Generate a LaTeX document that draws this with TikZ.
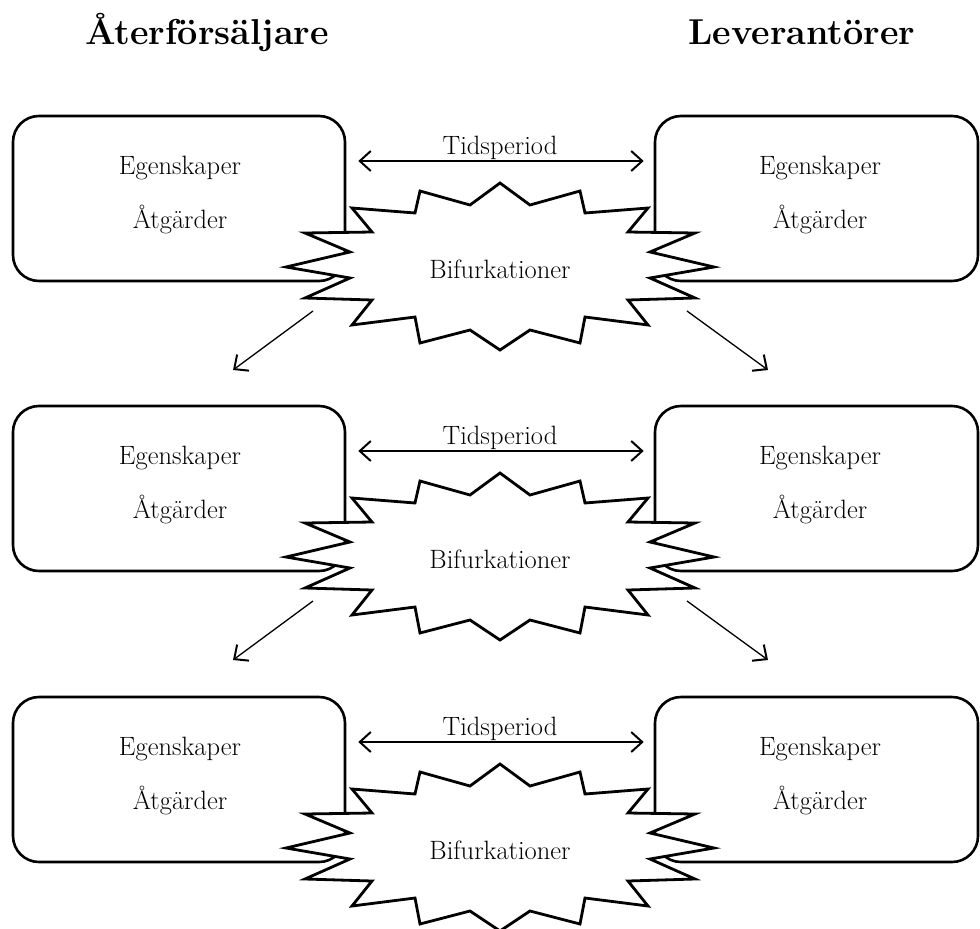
\documentclass[tikz,border=0pt]{standalone}
\usetikzlibrary{arrows.meta}
\begin{document}
\begin{tikzpicture}[x=1pt,y=-1pt,
  box/.style={draw,line width=2.6pt,rounded corners=26pt,fill=white,inner sep=0pt},
  burst/.style={draw,line width=2.8pt,fill=white,line join=miter},
  body/.style={font=\fontsize{26.5}{30}\selectfont,inner sep=0pt,anchor=base},
  head/.style={font=\fontsize{36}{40}\selectfont\bfseries,inner sep=0pt,anchor=base},
  link/.style={line width=1.3pt,-{Straight Barb[length=11pt,width=20pt,line width=2pt]}},
  dbl/.style={line width=1.3pt,{Straight Barb[length=11pt,width=20pt,line width=2pt]}-{Straight Barb[length=11pt,width=20pt,line width=2pt]}}]
\useasboundingbox (0,0) rectangle (980,929);

% column headings
\node[head] (hRet) at (207,44) {Återförsäljare};
\node[head] (hLev) at (802,44) {Leverantörer};

\foreach \r/\o in {1/0,2/290,3/581}{
  % the two parties
  \node[box,minimum width=332pt,minimum height=165pt] (boxL\r) at (179,198.5+\o) {};
  \node[box,minimum width=323pt,minimum height=165pt] (boxR\r) at (816.5,198.5+\o) {};
  % bifurcation star
  \coordinate (bc\r) at (500,267+\o);
  \draw[burst,shift={(bc\r)}]
    (-214,0) -- (-150,-15) -- (-195,-34) -- (-128,-35) -- (-148,-59) -- (-85,-54)
    -- (-80,-76) -- (-30,-62) -- (0,-84) -- (30,-62) -- (80,-76) -- (85,-54)
    -- (148,-59) -- (128,-35) -- (195,-34) -- (150,-15) -- (214,0) -- (150,11)
    -- (195,31) -- (128,33) -- (148,58) -- (85,50) -- (80,76) -- (30,63)
    -- (0,83) -- (-30,63) -- (-80,76) -- (-85,50) -- (-148,58) -- (-128,33)
    -- (-195,31) -- (-150,11) -- cycle;
  \node[body] (bif\r) at (500,278+\o) {Bifurkationer};
  % box contents
  \node[body] (egL\r) at (180,174+\o) {Egenskaper};
  \node[body] (atL\r) at (180,228+\o) {Åtgärder};
  \node[body] (egR\r) at (820,174+\o) {Egenskaper};
  \node[body] (atR\r) at (820,228+\o) {Åtgärder};
  % time period
  \coordinate (tm\r) at (500,161+\o);
  \node[body] (tp\r) at (500,154+\o) {Tidsperiod};
  \draw[dbl,shorten <=12pt,shorten >=10pt] (boxL\r.east |- tm\r) -- (boxR\r.west |- tm\r);
}

% transitions to the next period
\foreach \r/\o in {1/0,2/290}{
  \coordinate (sL\r) at (313,311+\o);
  \coordinate (eL\r) at (233,370+\o);
  \coordinate (sR\r) at (687,311+\o);
  \coordinate (eR\r) at (768,370+\o);
  \draw[link] (sL\r) -- (eL\r);
  \draw[link] (sR\r) -- (eR\r);
}
\end{tikzpicture}
\end{document}
